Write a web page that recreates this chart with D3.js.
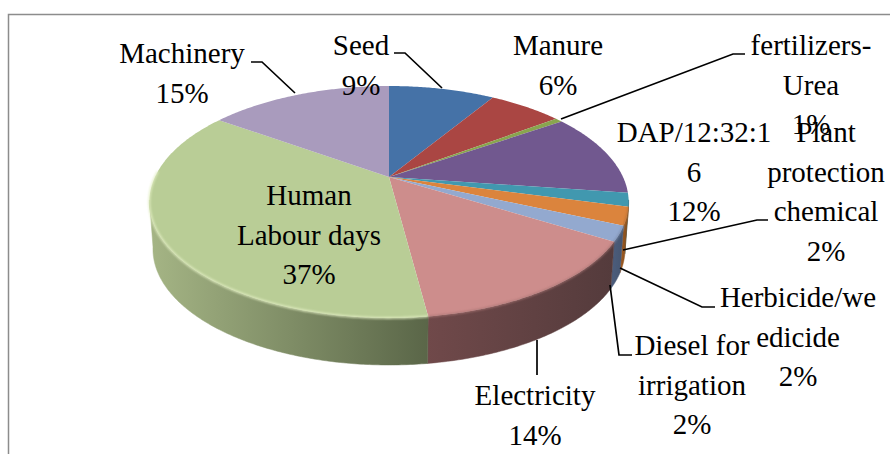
<!DOCTYPE html>
<html>
<head>
<meta charset="utf-8">
<script src="https://cdn.jsdelivr.net/npm/d3@7/dist/d3.min.js"></script>
<style>
    html, body { margin: 0; padding: 0; background: #fff; }
    text { font-family: "Liberation Serif", serif; font-size: 29px; fill: #000; text-anchor: middle; }
</style>
</head>
<body>
<svg id="chart" width="890" height="454"></svg>
<script>
// values, the printed labels are rounded
var categories = ['Seed', 'Manure', 'fertilizers-Urea', 'DAP/12:32:16', 'Plant protection chemical',
    'Herbicide/weedicide', 'Diesel for irrigation', 'Electricity', 'Human Labour days', 'Machinery'];
var values = [8.8, 6.1, 0.6, 11.7, 1.9, 2.5, 2.1, 14.2, 36.9, 15.2];
var colors = ['#4572a7', '#aa4643', '#89a54e', '#71588f', '#4198af', '#db843d', '#93a9cf', '#cd8d8c', '#b9cd96', '#a99bbd'];
var wallLeft = ['#2a4464', '#662a28', '#52632f', '#443556', '#275b69', '#a55d22', '#4c5e7e', '#70494a', '#a5b585', '#655d71'];
var wallRight = ['#2a4464', '#662a28', '#52632f', '#443556', '#275b69', '#7a4a1c', '#46556f', '#543b3c', '#5a6648', '#655d71'];

// wrapped label text, one row per line, same order as categories
var labelLines = [
    ['Seed', '9%'],
    ['Manure', '6%'],
    ['fertilizers-', 'Urea', '1%'],
    ['DAP/12:32:1', '6', '12%'],
    ['Plant', 'protection', 'chemical', '2%'],
    ['Herbicide/we', 'edicide', '2%'],
    ['Diesel for', 'irrigation', '2%'],
    ['Electricity', '14%'],
    ['Human', 'Labour days', '37%'],
    ['Machinery', '15%']
];
var labelX = [361, 558, 811, 694, 826, 798, 692, 535, 309, 182];
var labelY = [55, 55, 55, 142, 142, 307, 355, 405, 205, 63];
var leaders = [
    [[394, 53], [405, 53], [442, 88]],
    [[745, 54], [733, 54], [561, 119]],
    [[768, 220], [757, 220], [623, 250]],
    [[715, 307], [702, 307], [620, 268]],
    [[632, 355], [619, 355], [610, 285]],
    [[537, 340], [537, 375]],
    [[251, 62], [262, 62], [295, 93]]
];

var apex = { x: 389, y: 177 };
var radiusX = 234, radiusY = 110.6, tilt = 0.2155;
var depth = 47, bottomScale = 0.985;

var svg = d3.select('#chart');

// circle angle (clockwise from the top) to a point on the tilted top face
function project(angle, r) {
    var u = Math.sin(angle) * r;
    var v = -Math.cos(angle) * r;
    var w = 1 - tilt * v;
    return [apex.x + radiusX * u / w, apex.y + radiusY * v / w];
}

function projectBottom(angle) {
    var p = project(angle, 1);
    return [apex.x + (p[0] - apex.x) * bottomScale, p[1] + depth];
}

function sample(a0, a1, fn) {
    var n = Math.max(2, Math.ceil(Math.abs(a1 - a0) / 0.01));
    return d3.range(n + 1).map(function (i) {
        return fn(a0 + (a1 - a0) * i / n);
    });
}

function rim(angle) { return project(angle, 1); }

var line = d3.line();
var closedLine = d3.line().curve(d3.curveLinearClosed);

var arcs = d3.pie().sort(null).value(function (d) { return d; })(values);

var defs = svg.append('defs');
defs.append('filter').attr('id', 'soft').append('feGaussianBlur').attr('stdDeviation', 0.8);

// frame
svg.append('path')
    .attr('d', line([[890, 14.5], [8.5, 14.5], [8.5, 454]]))
    .attr('fill', 'none')
    .attr('stroke', '#8c8c8c')
    .attr('stroke-width', 1.5);

// side wall, only the part facing the viewer
var wallFrom = Math.PI / 2 + 0.2;
var wallTo = 3 * Math.PI / 2 - 0.2;

arcs.forEach(function (d, i) {
    var a0 = Math.max(d.startAngle, wallFrom);
    var a1 = Math.min(d.endAngle, wallTo);
    if (a1 <= a0) return;

    var grad = defs.append('linearGradient').attr('id', 'wall' + i);
    // left of the picture is the end of the slice
    grad.append('stop').attr('offset', 0).attr('stop-color', wallLeft[i]);
    grad.append('stop').attr('offset', 1).attr('stop-color', wallRight[i]);

    var pts = sample(a0, a1, rim).concat(sample(a1, a0, projectBottom));
    svg.append('path')
        .attr('d', closedLine(pts))
        .attr('fill', 'url(#wall' + i + ')')
        .attr('stroke', 'url(#wall' + i + ')')
        .attr('stroke-width', 0.5);
});

// top face
arcs.forEach(function (d, i) {
    var pts = [[apex.x, apex.y]].concat(sample(d.startAngle, d.endAngle, rim));
    svg.append('path')
        .attr('d', closedLine(pts))
        .attr('fill', colors[i]);
});

// bevel highlight round the front rim
arcs.forEach(function (d, i) {
    if (d.endAngle < wallFrom) return;
    var a0 = Math.max(d.startAngle, wallFrom);
    var a1 = Math.min(d.endAngle, wallTo + 0.25);
    if (i < 8) {
        svg.append('path')
            .attr('d', line(sample(a0, a1, rim)))
            .attr('fill', 'none')
            .attr('stroke', d3.color(colors[i]).darker(0.5))
            .attr('stroke-width', 1.5)
            .attr('filter', 'url(#soft)');
    } else if (i === 8) {
        svg.append('path')
            .attr('d', line(sample(a0, a1, rim)))
            .attr('fill', 'none')
            .attr('stroke', '#e2eec2')
            .attr('stroke-width', 1.8)
            .attr('filter', 'url(#soft)');
    }
});

// leader lines
svg.selectAll('.leader').data(leaders).enter()
    .append('path')
    .attr('class', 'leader')
    .attr('d', function (d) { return line(d); })
    .attr('fill', 'none')
    .attr('stroke', '#000')
    .attr('stroke-width', 1.7);

// labels
categories.forEach(function (c, i) {
    svg.selectAll('.label' + i).data(labelLines[i]).enter()
        .append('text')
        .attr('class', 'label' + i)
        .attr('x', labelX[i])
        .attr('y', function (d, j) { return labelY[i] + j * 39.7; })
        .text(function (d) { return d; });
});
</script>
</body>
</html>
